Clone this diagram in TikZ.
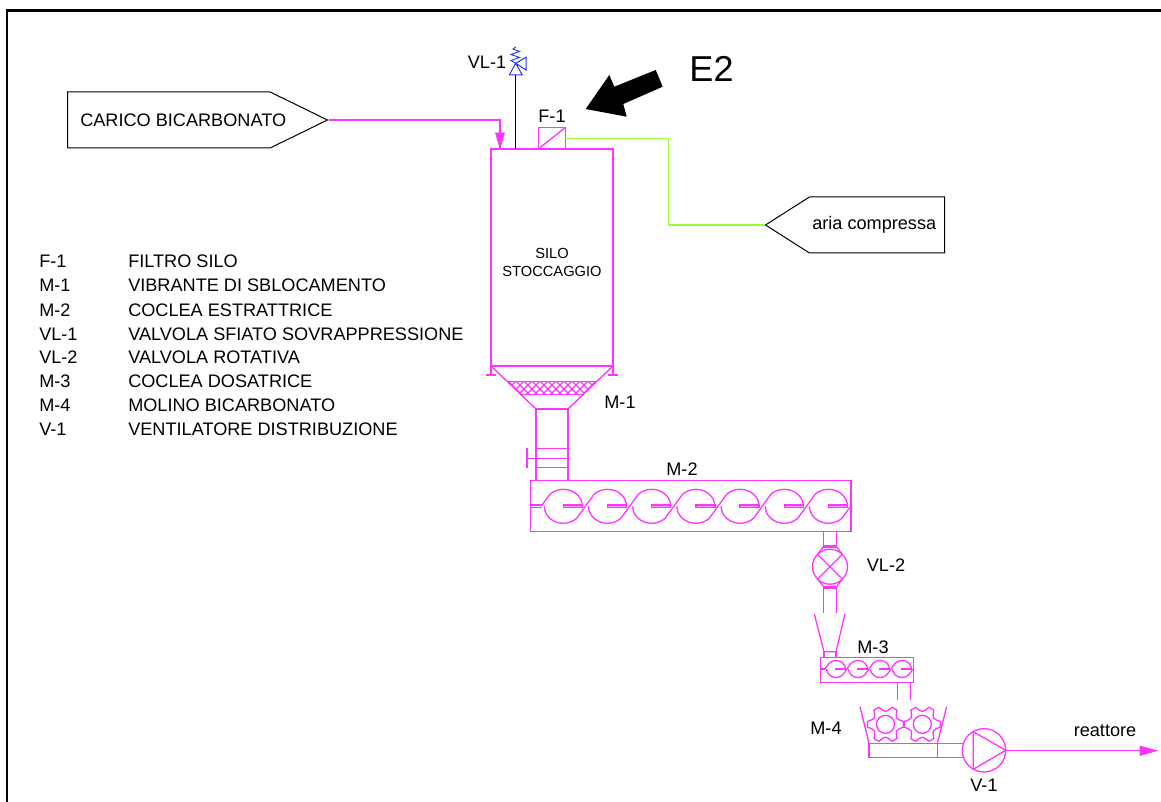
\documentclass[tikz,border=0pt]{standalone}
\usepackage{fontspec}
\setmainfont{Liberation Sans}
\usetikzlibrary{positioning,arrows.meta,shapes.symbols}
\definecolor{PipeMagenta}{HTML}{FF33FF}
\definecolor{AirGreen}{HTML}{99FF33}
\definecolor{ValveBlue}{HTML}{2233EE}
\def\px{0.75pt}

\tikzset{
  equip/.style={draw=PipeMagenta,line width=1.3*\px,inner sep=0pt,outer sep=0pt},
  pipe/.style={draw=PipeMagenta,line width=1.3*\px},
  thin pipe/.style={draw=PipeMagenta,line width=1.3*\px},
  tag/.style={font=\fontsize{13.6pt}{16pt}\selectfont,inner sep=0pt},
  legend/.style={tag,anchor=base west},
  pics/flight/.style={code={
    \draw[thin pipe] (-22.1,0) -- (-13.4,12) arc[start angle=135,end angle=0,x radius=19,y radius=17];
    \draw[thin pipe] (22.1,0) -- (13.4,-12) arc[start angle=-45,end angle=-180,x radius=19,y radius=17];
    \draw[thin pipe,fill=PipeMagenta!45] (0,-1.2) rectangle (19,1.2);
  }},
  pics/gear/.style={code={
    \draw[thin pipe] circle[radius=9];
    \foreach \a in {0,60,...,300}{
      \draw[thin pipe] (\a-9:18.3) -- (\a+9:18.3)
        .. controls (\a+30:11.5) .. (\a+51:18.3);
    }
  }}
}

\begin{document}
\begin{tikzpicture}[x=0.75pt,y=0.75pt]
  \useasboundingbox (0,0) rectangle (1161,-802);
  % frame
  \draw[line width=2.7*\px] (7,-802) |- (1161,-10.7);
  % tags
  \node[draw,signal,signal to=east,signal pointer angle=52,line width=1*\px,minimum width=260*\px,minimum height=56*\px,inner sep=0pt,anchor=west] (carico) at (67,-120) {};
  \node[tag,anchor=west] (caricotxt) at (80,-120) {CARICO BICARBONATO};
  \node[draw,signal,signal to=west,signal pointer angle=65,line width=1*\px,minimum width=179*\px,minimum height=56*\px,inner sep=0pt,anchor=east] (aria) at (945,-225) {};
  \node[tag,anchor=west] (ariatxt) at (812,-225) {aria compressa};
  % silo
  \node[equip,minimum width=122*\px,minimum height=217*\px] (silo) at (552,-257.5) {};
  \node[font=\fontsize{11pt}{13pt}\selectfont,inner sep=0pt,align=center] (silotxt) at (552,-262.5) {SILO\\STOCCAGGIO};
  \node[equip,minimum width=27*\px,minimum height=21.5*\px,anchor=south west] (filtro) at (538.3,-149) {};
  \draw[thin pipe] (filtro.south west) -- (filtro.north east);
  \coordinate (ingresso) at (500,-148.5);
  \draw[thin pipe] (carico.east) -| (ingresso);
  \draw[PipeMagenta,fill=PipeMagenta] (ingresso) -- (495.5,-133) -- (504.5,-133) -- cycle;
  \draw[draw=AirGreen,line width=1.2*\px] (filtro.east) -| (668.3,-225) -- (aria.west);
  % vent valve
  \coordinate (sfiato) at (515.7,-75);
  \draw[line width=1*\px] (silo.north -| sfiato) -- (sfiato);
  \draw[ValveBlue,line width=1*\px] (509.3,-75) -- (522.3,-75) -- (515.7,-63.3) -- cycle
    (515.7,-63.3) -- (526,-57.3) -- (526,-70) -- cycle;
  \draw[ValveBlue,line width=.9*\px] (515.7,-63.3) -- (511,-60.5) -- (519.5,-57.5) -- (511,-54.5) -- (519.5,-51.5) -- (513,-49) -- (515.7,-47);
  % big arrow
  \fill (585.7,-109) -- (609.3,-75) -- (614.3,-86.7) -- (655.7,-70) -- (662.7,-86.7) -- (623.3,-104) -- (626.7,-116.7) -- cycle;
  \node[font=\fontsize{27pt}{30pt}\selectfont,inner sep=0pt] (etwo) at (711.5,-69) {E2};
  % cone and band
  \coordinate (coneL) at (536,-409);
  \coordinate (coneR) at (568,-409);
  \draw[pipe] (silo.south west) -- (coneL) (silo.south east) -- (coneR);
  \draw[pipe] (silo.south west) -- ++(0,-9) (486,-375) -- (496,-375);
  \draw[pipe] (silo.south east) -- ++(0,-9) (608,-375) -- (618,-375);
  \begin{scope}
    \clip (508,-381.7) -- (596.7,-381.7) -- (584,-394.3) -- (520.7,-394.3) -- cycle;
    \foreach \i in {500,508,...,610}{
      \draw[thin pipe] (\i,-381) -- ++(14,-14);
      \draw[thin pipe] (\i,-381) -- ++(-14,-14);
    }
  \end{scope}
  \draw[pipe] (508,-381.7) -- (596.7,-381.7) (520.7,-394.3) -- (584,-394.3);
  \node[tag] (mone) at (620,-402) {M-1};
  % neck with gate
  \node[equip,minimum width=320.5*\px,minimum height=51*\px,anchor=north west] (mtwo) at (530.5,-480.7) {};
  \draw[pipe] (coneL) -- (coneL |- mtwo.north) (coneR) -- (coneR |- mtwo.north);
  \draw[pipe] (coneL) -- (coneR);
  \draw[pipe] (536,-448.3) -- (568,-448.3) (536,-467.3) -- (568,-467.3);
  \draw[pipe] (527,-458.3) -- (568,-458.3) (527,-448) -- (527,-467.5);
  % M-2
  \node[tag] (mtwotxt) at (682,-469) {M-2};
  \foreach \i in {0,...,6}
    \pic at (563.3+\i*44.2,-506.3) {flight};
  \draw[thin pipe] (530.5,-505.1) -- (541.5,-505.1) (530.5,-507.5) -- (541.5,-507.5);
  % VL-2
  \node[equip,circle,minimum size=35*\px] (vltwo) at (830,-566.7) {};
  \draw[thin pipe] (vltwo.45) -- (vltwo.225) (vltwo.135) -- (vltwo.315);
  \draw[pipe] (823.3,-531.7) -- (823.3,-547) (836.7,-531.7) -- (836.7,-547);
  \draw[thin pipe] (823.3,-547) -- (836.7,-547) (823.3,-545.5) -- (836.7,-545.5);
  \draw[thin pipe] (823.3,-547) -- (vltwo.135) (836.7,-547) -- (vltwo.45);
  \draw[thin pipe] (823.3,-586.5) -- (vltwo.225) (836.7,-586.5) -- (vltwo.315);
  \draw[thin pipe] (823.3,-586.5) -- (836.7,-586.5) (823.3,-588) -- (836.7,-588);
  \draw[pipe] (823.3,-586.5) -- (823.3,-613) (836.7,-586.5) -- (836.7,-613);
  \node[tag] (vltwotxt) at (886,-565) {VL-2};
  % M-3
  \node[equip,minimum width=92.6*\px,minimum height=25*\px,anchor=north west] (mthree) at (820.7,-657.3) {};
  \draw[pipe] (814.3,-614) -- (824,-651.7) -- (836,-651.7) -- (845,-614);
  \draw[pipe] (824,-651.7) -- (824,-657.3) (836,-651.7) -- (836,-657.3);
  \node[tag] (mthreetxt) at (873,-647) {M-3};
  \foreach \i in {0,...,3}
    \pic[scale=.5] at (836+\i*22,-669) {flight};
  \draw[thin pipe] (820.7,-669) -- (825,-669);
  \draw[pipe] (897.7,-682.3) -- (897.7,-700) (910.3,-682.3) -- (910.3,-700);
  % M-4
  \node[tag] (mfour) at (826,-728) {M-4};
  \node[equip,minimum width=68.3*\px,minimum height=14*\px,anchor=north west] (mfourbox) at (869,-743.3) {};
  \draw[pipe] (860,-706.7) -- (mfourbox.north west) (946.7,-706.7) -- (mfourbox.north east);
  \pic at (885.5,-724.3) {gear};
  \pic at (922.3,-724.3) {gear};
  % V-1
  \node[equip,circle,minimum size=43.4*\px] (vone) at (984,-750.3) {};
  \draw[thin pipe] (973.3,-731.7) -- (973.3,-769.3) -- (vone.east) -- cycle;
  \draw[pipe] (mfourbox.north east) -- (mfourbox.north east -| vone.161) (mfourbox.south east) -- (mfourbox.south east -| vone.199);
  \node[tag] (vonetxt) at (984,-785) {V-1};
  \coordinate (uscita) at (1157,-750.7);
  \node[tag] (reattore) at (1105,-731) {reattore};
  \draw[thin pipe] (vone.east) -- (1140,-750.3);
  \draw[PipeMagenta,fill=PipeMagenta] (uscita) -- (1140,-746) -- (1140,-755.5) -- cycle;
  % top labels
  \node[tag] (vlone) at (487,-62) {VL-1};
  \node[tag] (fone) at (552,-116) {F-1};
  % legend
  \foreach \y/\a/\b in {268/F-1/FILTRO SILO,292/M-1/VIBRANTE DI SBLOCAMENTO,317/M-2/COCLEA ESTRATTRICE,341/VL-1/VALVOLA SFIATO SOVRAPPRESSIONE,364/VL-2/VALVOLA ROTATIVA,387.5/M-3/COCLEA DOSATRICE,411.5/M-4/MOLINO BICARBONATO,435.5/V-1/VENTILATORE DISTRIBUZIONE}{
    \node[legend] (key\a) at (39,-\y) {\a};
    \node[legend] (txt\a) at (128,-\y) {\b};
  }
\end{tikzpicture}
\end{document}
